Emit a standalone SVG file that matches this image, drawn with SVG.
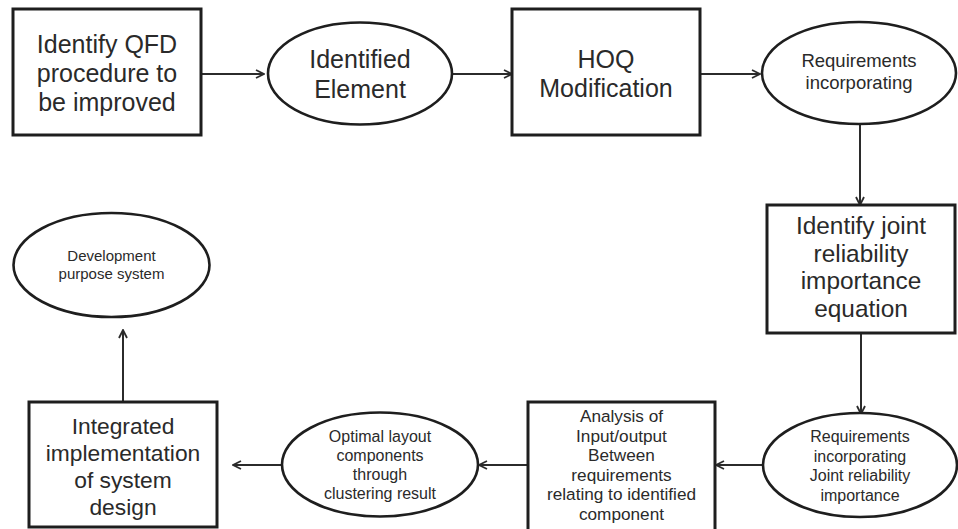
<svg xmlns="http://www.w3.org/2000/svg" width="958" height="529" viewBox="0 0 958 529">
  <defs>
    <marker id="arrow" viewBox="0 0 10 10" refX="9" refY="5" markerWidth="10" markerHeight="10" markerUnits="userSpaceOnUse" orient="auto">
      <path d="M1,1 L9,5 L1,9" fill="none" stroke="#2b2b2b" stroke-width="1.8"/>
    </marker>
    <style>
      .box { fill: #ffffff; stroke: #1e1e1e; stroke-width: 3; }
      .oval { fill: #ffffff; stroke: #1e1e1e; stroke-width: 2.6; }
      .edge { fill: none; stroke: #2b2b2b; stroke-width: 2; marker-end: url(#arrow); }
      text { font-family: "Liberation Sans", Arial, sans-serif; fill: #2a2a2a; text-anchor: middle; }
      .big { font-size: 25px; }
      .tall { font-size: 24.4px; }
      .mid { font-size: 22.8px; }
      .sm { font-size: 18.5px; }
      .xs { font-size: 16px; }
      .xsw { font-size: 17.2px; }
      .xxs { font-size: 15px; }
    </style>
  </defs>
  <rect width="958" height="529" fill="#ffffff"/>

  <g id="connectors">
    <line class="edge" x1="201" y1="74" x2="264" y2="74"/>
    <line class="edge" x1="452" y1="74" x2="512" y2="74"/>
    <line class="edge" x1="700" y1="74" x2="760" y2="74"/>
    <line class="edge" x1="860" y1="124" x2="860" y2="205"/>
    <line class="edge" x1="861" y1="333" x2="861" y2="414"/>
    <line class="edge" x1="763" y1="465" x2="716" y2="465"/>
    <line class="edge" x1="528" y1="465" x2="479" y2="465"/>
    <line class="edge" x1="281" y1="465" x2="233" y2="465"/>
    <line class="edge" x1="123" y1="402" x2="123" y2="330"/>
  </g>

  <g id="identify-qfd">
    <rect class="box" x="13" y="9" width="188" height="126"/>
    <text class="big"><tspan x="107" y="53">Identify QFD</tspan><tspan x="107" y="82">procedure to</tspan><tspan x="107" y="111">be improved</tspan></text>
  </g>

  <g id="identified-element">
    <ellipse class="oval" cx="360" cy="73.5" rx="92" ry="51"/>
    <text class="big"><tspan x="360" y="68">Identified</tspan><tspan x="360" y="98">Element</tspan></text>
  </g>

  <g id="hoq-modification">
    <rect class="box" x="512" y="9" width="188" height="126"/>
    <text class="big"><tspan x="606" y="68">HOQ</tspan><tspan x="606" y="97">Modification</tspan></text>
  </g>

  <g id="requirements-incorporating">
    <ellipse class="oval" cx="859" cy="73" rx="97" ry="51"/>
    <text class="sm"><tspan x="859" y="67">Requirements</tspan><tspan x="859" y="89">incorporating</tspan></text>
  </g>

  <g id="joint-reliability-equation">
    <rect class="box" x="767" y="205" width="188" height="128"/>
    <text class="tall"><tspan x="861" y="234">Identify joint</tspan><tspan x="861" y="261.5">reliability</tspan><tspan x="861" y="289">importance</tspan><tspan x="861" y="316.5">equation</tspan></text>
  </g>

  <g id="requirements-joint-reliability">
    <ellipse class="oval" cx="860" cy="465" rx="97" ry="52"/>
    <text class="xs"><tspan x="860" y="442">Requirements</tspan><tspan x="860" y="461.5">incorporating</tspan><tspan x="860" y="481">Joint reliability</tspan><tspan x="860" y="500.5">importance</tspan></text>
  </g>

  <g id="io-analysis">
    <rect class="box" x="528" y="402" width="187" height="140"/>
    <text class="xsw"><tspan x="621.5" y="422">Analysis of</tspan><tspan x="621.5" y="441.5">Input/output</tspan><tspan x="621.5" y="461">Between</tspan><tspan x="621.5" y="480.5">requirements</tspan><tspan x="621.5" y="500">relating to identified</tspan><tspan x="621.5" y="519.5">component</tspan></text>
  </g>

  <g id="optimal-layout">
    <ellipse class="oval" cx="380" cy="464.5" rx="98" ry="52"/>
    <text class="xs"><tspan x="380" y="442">Optimal layout</tspan><tspan x="380" y="461">components</tspan><tspan x="380" y="480">through</tspan><tspan x="380" y="499">clustering result</tspan></text>
  </g>

  <g id="integrated-implementation">
    <rect class="box" x="29" y="402" width="188" height="125"/>
    <text class="mid"><tspan x="123" y="434">Integrated</tspan><tspan x="123" y="461">implementation</tspan><tspan x="123" y="488">of system</tspan><tspan x="123" y="515">design</tspan></text>
  </g>

  <g id="development-purpose">
    <ellipse class="oval" cx="111.5" cy="265" rx="98" ry="52"/>
    <text class="xxs"><tspan x="111.5" y="261">Development</tspan><tspan x="111.5" y="279">purpose system</tspan></text>
  </g>
</svg>
